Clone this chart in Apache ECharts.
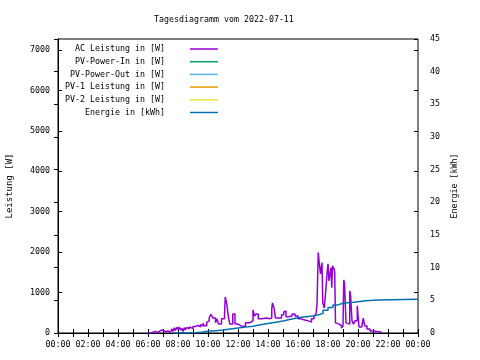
<!DOCTYPE html>
<html><head><meta charset="utf-8">
<script src="https://cdn.jsdelivr.net/npm/echarts@6/dist/echarts.min.js"></script>
<style>html,body{margin:0;padding:0;background:#fff}#c{width:480px;height:360px}</style>
</head><body><div id="c"></div>
<script>
// ---- data ----
const titleText = 'Tagesdiagramm vom 2022-07-11';
const seriesNames = ['AC Leistung in [W]','PV-Power-In in [W]','PV-Power-Out in [W]','PV-1 Leistung in [W]','PV-2 Leistung in [W]','Energie in [kWh]'];
const seriesColors = ['#9400D3','#009E73','#56B4E9','#E69F00','#F0E442','#0072B2'];
const acTimes = ['06:00','06:10','06:20','06:30','06:40','06:50','07:00','07:10','07:20','07:30','07:35','07:40','07:45','07:50','07:55','08:00','08:05','08:10','08:15','08:20','08:25','08:30','08:35','08:40','08:45','08:50','09:00','09:10','09:15','09:20','09:30','09:35','09:40','09:45','09:55','10:00','10:05','10:12','10:20','10:30','10:36','10:42','10:54','11:06','11:09','11:15','11:21','11:27','11:39','11:48','12:00','12:12','12:30','12:48','13:00','13:06','13:12','13:21','13:36','13:54','14:06','14:15','14:18','14:24','14:30','14:40','14:54','15:03','15:06','15:12','15:21','15:36','15:48','16:00','16:12','16:27','16:42','16:54','17:04','17:12','17:16','17:21','17:24','17:30','17:36','17:39','17:45','17:51','17:57','18:00','18:04','18:12','18:15','18:18','18:24','18:27','18:30','18:36','18:45','18:54','19:00','19:03','19:06','19:12','19:18','19:27','19:30','19:36','19:42','19:48','19:57','20:00','20:04','20:15','20:21','20:27','20:36','20:48','21:00','21:15','21:30','21:36'];
const acValues = [0,20,40,15,60,75,30,50,20,60,100,40,130,60,140,90,150,70,120,40,130,80,140,100,150,110,160,120,190,150,210,170,240,180,260,300,380,460,370,255,350,220,350,420,890,720,420,220,470,220,175,160,255,300,570,420,470,350,370,350,370,600,745,620,370,370,450,520,545,400,420,470,420,350,320,300,270,350,420,470,720,1990,1790,1460,1740,745,620,1040,1540,1710,1290,1610,1120,1660,1590,1490,250,220,175,120,175,1310,1240,250,220,1040,960,300,220,300,670,670,150,175,370,175,100,50,40,25,20,0];
const energyTimes = ['07:40','08:30','09:10','09:40','10:00','10:30','11:00','11:30','12:00','12:30','13:00','13:30','14:00','14:30','15:00','15:30','16:00','16:30','17:00','17:20','17:40','18:00','18:20','18:40','19:00','19:30','20:00','20:30','21:00','21:20','24:00'];
const energyValues = [0,0.05,0.15,0.25,0.35,0.45,0.6,0.75,0.9,1.05,1.25,1.45,1.65,1.85,2.1,2.35,2.5,2.6,2.75,3.0,3.5,3.9,4.3,4.55,4.65,4.8,4.95,5.0,5.05,5.15,5.15];
const xTickLabels = ['00:00','02:00','04:00','06:00','08:00','10:00','12:00','14:00','16:00','18:00','20:00','22:00','00:00'];
const leftAxisName = 'Leistung [W]';
const rightAxisName = 'Energie [kWh]';

// ---- build ----
const toH = t => { const p = t.split(':'); return +p[0] + (+p[1]) / 60; };
const acData = acTimes.map((t, i) => [toH(t), acValues[i]]);
const enData = energyTimes.map((t, i) => [toH(t), energyValues[i]]);
const FONT = 'DejaVu Sans Mono';
const txt = {fontFamily: FONT, fontSize: 8.3, color: '#000'};
const LMAX = 7270;

const series = seriesNames.map((n, i) => ({
  name: n, type: 'line', symbol: 'none', animation: false,
  color: seriesColors[i],
  lineStyle: {width: 1.5, color: seriesColors[i]},
  yAxisIndex: i === 5 ? 1 : 0,
  step: (i === 0 || i === 5) ? 'end' : false,
  data: i === 0 ? acData : (i === 5 ? enData : [])
}));

const chart = echarts.init(document.getElementById('c'), null, {renderer: 'canvas'});
chart.setOption({
  animation: false,
  backgroundColor: '#fff',
  title: {text: titleText, left: 149, top: 11, textStyle: Object.assign({}, txt, {fontWeight: 'normal'})},
  legend: {
    orient: 'vertical', align: 'right', left: 65, top: 44, padding: 0,
    itemWidth: 28, itemHeight: 10, itemGap: 2.7,
    itemStyle: {opacity: 0, color: 'transparent', borderWidth: 0},
    lineStyle: {width: 1.5},
    textStyle: Object.assign({}, txt, {lineHeight: 10, padding: [0, 20, 0, 0]}),
    data: seriesNames
  },
  grid: {left: 58, right: 62, top: 39, bottom: 27, show: true, borderColor: '#000', borderWidth: 1, backgroundColor: 'transparent', containLabel: false, outerBoundsMode: 'none'},
  xAxis: [{
    type: 'value', min: 0, max: 24, interval: 2,
    axisLine: {show: true, lineStyle: {color: '#000'}},
    axisTick: {inside: true, length: 4, lineStyle: {color: '#000'}},
    minorTick: {show: true, splitNumber: 2, length: 4, lineStyle: {color: '#000'}},
    splitLine: {show: false},
    axisLabel: Object.assign({}, txt, {margin: 8, formatter: v => xTickLabels[Math.round(v / 2)]})
  }, {
    type: 'value', min: 0, max: 24, interval: 2, position: 'top',
    axisLine: {show: false},
    axisTick: {inside: true, length: 4, lineStyle: {color: '#000'}},
    minorTick: {show: true, splitNumber: 2, length: 4, lineStyle: {color: '#000'}},
    splitLine: {show: false}, axisLabel: {show: false}
  }],
  yAxis: [{
    type: 'value', min: 0, max: LMAX, interval: 1000, position: 'left',
    name: leftAxisName, nameLocation: 'middle', nameGap: 44,
    nameTextStyle: Object.assign({}, txt, {fontSize: 9}),
    axisLine: {show: true, lineStyle: {color: '#000'}},
    axisTick: {inside: true, length: 4, lineStyle: {color: '#000'}},
    splitLine: {show: false},
    axisLabel: Object.assign({}, txt, {margin: 8, showMaxLabel: false, formatter: v => String(v)})
  }, {
    type: 'value', min: 0, max: 45, interval: 5, position: 'right',
    name: rightAxisName, nameLocation: 'middle', nameGap: 24,
    nameTextStyle: txt,
    axisLine: {show: true, lineStyle: {color: '#000'}},
    axisTick: {inside: true, length: 4, lineStyle: {color: '#000'}},
    splitLine: {show: false},
    axisLabel: Object.assign({}, txt, {margin: 12, formatter: v => String(v)})
  }, {
    type: 'value', min: 0, max: LMAX, interval: 1000, position: 'right',
    axisLine: {show: false},
    axisTick: {inside: true, length: 4, lineStyle: {color: '#000'}},
    splitLine: {show: false}, axisLabel: {show: false}
  }],
  series: series
});
</script>
</body></html>
